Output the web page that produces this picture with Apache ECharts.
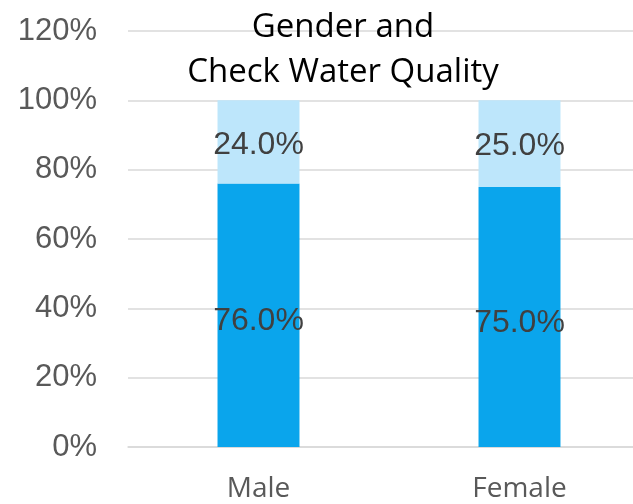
<!DOCTYPE html>
<html><head><meta charset="utf-8">
<script src="https://cdn.jsdelivr.net/npm/echarts@6/dist/echarts.min.js"></script>
<style>html,body{margin:0;padding:0;background:#fff}#c{width:633px;height:504px}</style>
</head><body><div id="c"></div>
<script>
var categories = ['Male', 'Female'];
var checkYes = [76.0, 75.0];
var checkNo = [24.0, 25.0];
var yTicks = [0, 20, 40, 60, 80, 100, 120];

var chart = echarts.init(document.getElementById('c'));
function lbl(dy){ return {show: true, position: 'inside', offset: [0, dy], color: '#404040', fontFamily: 'Liberation Sans', fontSize: 32,
  formatter: function(p){ return p.value.toFixed(1) + '%'; }}; }
chart.setOption({
  animation: false,
  title: {text: 'Gender and\nCheck Water Quality', left: 338, top: 0, textAlign: 'center',
    textStyle: {fontFamily: 'Open Sans', fontWeight: 'normal', fontSize: 33, color: '#000', lineHeight: 45}},
  grid: {left: 128, right: -17, top: 31, bottom: 57, outerBoundsMode: 'none', containLabel: false},
  xAxis: {type: 'category', data: categories,
    axisLine: {lineStyle: {color: '#d9d9d9', width: 1.5}}, axisTick: {show: false},
    axisLabel: {color: '#595959', fontFamily: 'Open Sans', fontSize: 28, margin: 28}},
  yAxis: {type: 'value', min: yTicks[0], max: yTicks[yTicks.length-1], interval: 20,
    axisLine: {show: false}, axisTick: {show: false},
    splitLine: {lineStyle: {color: '#d9d9d9', width: 1.5}},
    axisLabel: {color: '#595959', fontFamily: 'Liberation Sans', fontSize: 31, margin: 31, formatter: '{value}%'}},
  series: [
    {type: 'bar', stack: 's', data: checkYes, barWidth: '31.4%', itemStyle: {color: '#0AA5EC'}, label: lbl(6)},
    {type: 'bar', stack: 's', data: checkNo, barWidth: '31.4%', itemStyle: {color: '#BDE6FB'}, label: lbl(3)}
  ]
});
</script></body></html>
